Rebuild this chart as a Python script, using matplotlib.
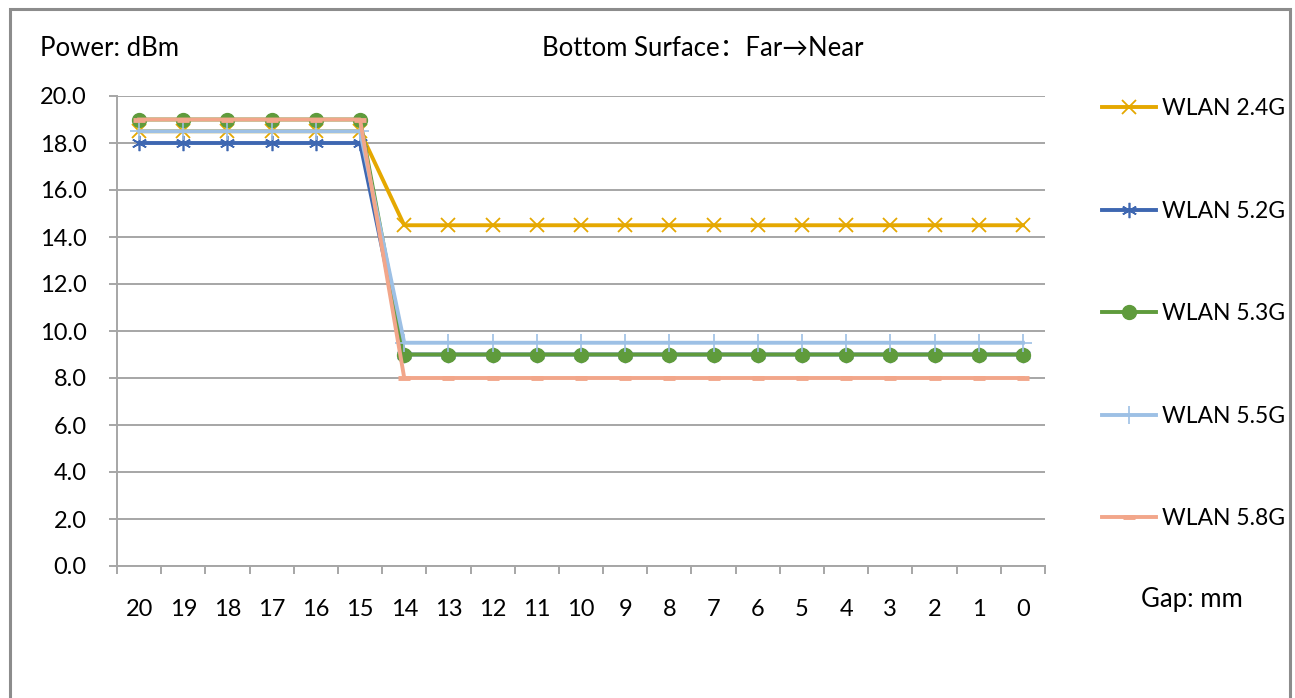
import numpy as np
import matplotlib.pyplot as plt
from matplotlib.patches import Rectangle

plt.rcParams['font.family'] = ['Lato', 'Noto Sans CJK SC', 'DejaVu Sans']

# gap in mm, far -> near
gaps = ['20', '19', '18', '17', '16', '15', '14', '13', '12', '11', '10',
        '9', '8', '7', '6', '5', '4', '3', '2', '1', '0']

# power in dBm
wlan_24 = [18.5] * 6 + [14.5] * 15
wlan_52 = [18.0] * 6 + [9.0] * 15
wlan_53 = [19.0] * 6 + [9.0] * 15
wlan_55 = [18.5] * 6 + [9.5] * 15
wlan_58 = [19.0] * 6 + [8.0] * 15

labels = ['WLAN 2.4G', 'WLAN 5.2G', 'WLAN 5.3G', 'WLAN 5.5G', 'WLAN 5.8G']

W, H = 1295, 698
fig = plt.figure(figsize=(W / 100, H / 100), dpi=100)
ax = fig.add_axes([117 / W, 1 - 566 / H, (1045 - 117) / W, (566 - 96) / H])

x = np.arange(len(gaps))
fs = 17     # tick labels
fs_txt = 18.5  # other text
fs_leg = 16.5

ax.plot(x, wlan_24, color='#E5A800', lw=2.8, marker='x', ms=10, mew=1.3, label=labels[0])
ax.plot(x, wlan_52, color='#3E67B1', lw=2.8, marker=(6, 2, 0), ms=11, mew=1.2, label=labels[1])
ax.plot(x, wlan_53, color='#5F9B3C', lw=2.8, marker='o', ms=10, label=labels[2])
ax.plot(x, wlan_55, color='#9DC0E5', lw=2.8, marker='+', ms=13, mew=1.2, label=labels[3])
ax.plot(x, wlan_58, color='#F2A68A', lw=2.8, marker='_', ms=8, mew=3.5, label=labels[4])

ax.set_xlim(-0.5, len(gaps) - 0.5)
ax.set_ylim(0, 20)
ax.set_yticks(np.arange(0, 21, 2))
ax.set_yticklabels([f'{v:.1f}' for v in np.arange(0, 21, 2)], fontsize=fs)
ax.set_xticks(x)
ax.set_xticklabels(gaps, fontsize=fs)
ax.set_xticks(np.arange(-0.5, len(gaps), 1), minor=True)
ax.tick_params(axis='x', which='major', length=0, pad=24)
ax.tick_params(axis='x', which='minor', length=6, width=1.4, color='#A6A6A6')
ax.tick_params(axis='y', length=6, width=1.4, color='#A6A6A6', pad=16)

ax.grid(axis='y', color='#A6A6A6', lw=1.4)
ax.set_axisbelow(True)
for s in ['top', 'right']:
    ax.spines[s].set_visible(False)
for s in ['left', 'bottom']:
    ax.spines[s].set_color('#A6A6A6')
    ax.spines[s].set_linewidth(1.4)

ax.legend(loc='upper left', bbox_to_anchor=(1102 / W, 1 - 98 / H),
          bbox_transform=fig.transFigure, frameon=False, fontsize=fs_leg,
          handlelength=2.35, handletextpad=0.25, labelspacing=3.56,
          borderpad=0, borderaxespad=0)

fig.text(40 / W, 1 - 49 / H, 'Power: dBm', fontsize=fs_txt, va='center', ha='left')
fig.text(703 / W, 1 - 49 / H, 'Bottom Surface：Far→Near', fontsize=fs_txt, va='center', ha='center')
fig.text(1192 / W, 1 - 600 / H, 'Gap: mm', fontsize=fs_txt, va='center', ha='center')

# outer chart frame
fig.patches.append(Rectangle((10 / W, -0.1), 1280 / W, 1.1 - 9 / H, transform=fig.transFigure,
                             fill=False, edgecolor='#8C8C8C', lw=2.2))

fig.savefig('out.png', dpi=100)
